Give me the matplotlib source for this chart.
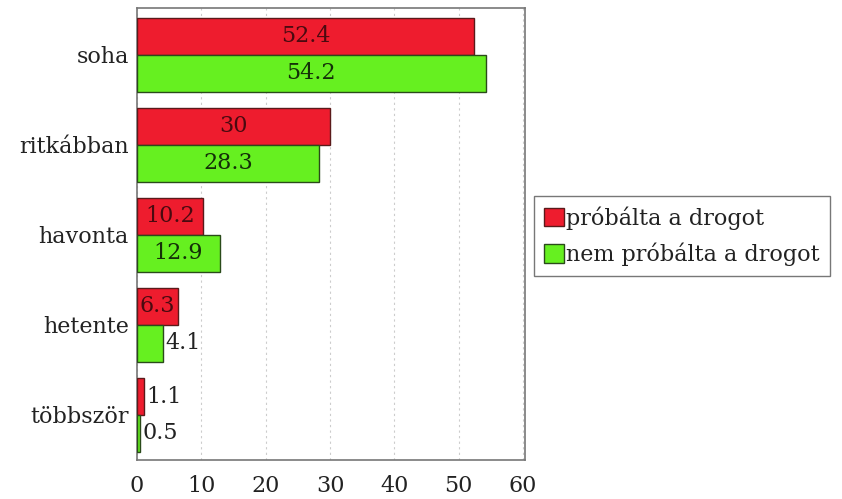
import matplotlib.pyplot as plt
import numpy as np

categories = ['soha', 'ritkábban', 'havonta', 'hetente', 'többször']
tried = [52.4, 30, 10.2, 6.3, 1.1]
not_tried = [54.2, 28.3, 12.9, 4.1, 0.5]
series_names = ['próbálta a drogot', 'nem próbálta a drogot']
xticks = [0, 10, 20, 30, 40, 50, 60]

plt.rcParams['font.family'] = ['DejaVu Serif']
plt.rcParams['font.size'] = 16

fig = plt.figure(figsize=(8.42, 4.99), dpi=100)
ax = fig.add_axes([137 / 842, 1 - 460 / 499, 388 / 842, 452 / 499])

y = np.arange(len(categories))
h = 0.41
bars1 = ax.barh(y - h / 2, tried, height=h, color='#ee1c2e', edgecolor='#5a1a1a',
                linewidth=1, label=series_names[0], zorder=3)
bars2 = ax.barh(y + h / 2, not_tried, height=h, color='#66f020', edgecolor='#2a4a1a',
                linewidth=1, label=series_names[1], zorder=3)

for bars, vals, tc in [(bars1, tried, '#4a0a10'), (bars2, not_tried, '#143008')]:
    for b, v in zip(bars, vals):
        cy = b.get_y() + b.get_height() / 2
        label = f'{v:g}'
        if v >= 6:
            ax.text(v / 2, cy, label, ha='center', va='center', color=tc, zorder=4)
        else:
            ax.text(v + 0.3, cy, label, ha='left', va='center', color='#222222', zorder=4)

ax.set_xlim(0, 60.3)
ax.set_ylim(len(categories) - 0.5, -0.52)
ax.set_xticks(xticks)
ax.set_yticks(y)
ax.set_yticklabels(categories)
ax.tick_params(length=0, pad=6, colors='#222222')
ax.tick_params(axis='x', pad=11)
ax.xaxis.grid(True, linestyle=(0, (2, 3)), color='#cccccc', linewidth=0.8, zorder=0)
for s in ax.spines.values():
    s.set_color('#777777')
    s.set_linewidth(1.2)

ax.legend(loc='upper left', bbox_to_anchor=(534 / 842, 1 - 196 / 499),
          bbox_transform=fig.transFigure, borderaxespad=0, frameon=True,
          fancybox=False, edgecolor='#555555', handlelength=0.9, handleheight=0.9,
          handletextpad=0.1, borderpad=0.45, labelspacing=0.6, fontsize=16,
          labelcolor='#222222')

fig.savefig('out.png', dpi=100)
